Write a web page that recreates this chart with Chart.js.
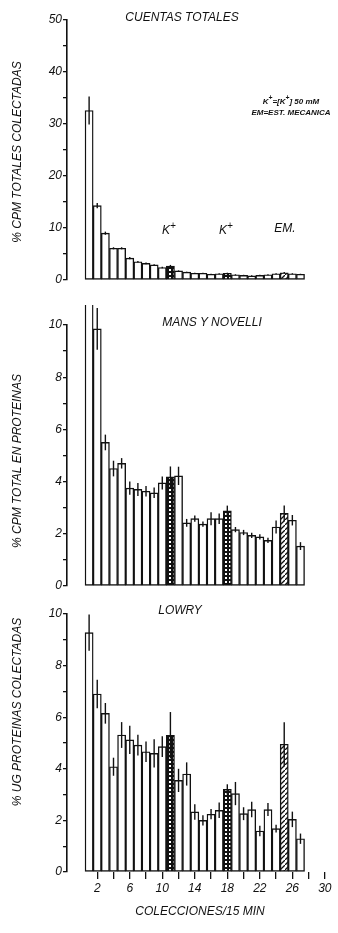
<!DOCTYPE html>
<html lang="es">
<head>
<meta charset="UTF-8">
<title>Colecciones / 15 min</title>
<script src="https://cdn.jsdelivr.net/npm/chart.js"></script>
<style>
  body { margin: 0; background: #fff; }
  #wrap { position: relative; width: 338px; height: 933px; overflow: hidden;
          font-family: "Liberation Sans", sans-serif; font-style: italic; color: #111; }
  canvas { position: absolute; left: 0; }
  .txt { position: absolute; white-space: nowrap; font-size: 12px; transform: translate(-50%, -50%); }
  .small { font-size: 8px; font-weight: bold; }
  .ytitle { position: absolute; white-space: nowrap; font-size: 12px;
            transform: translate(-50%, -50%) rotate(-90deg); }
</style>
</head>
<body>
<div id="wrap">
  <canvas id="cuentasChart" width="338" height="300" style="top:0"></canvas>
  <canvas id="mansChart" width="338" height="300" style="top:300px"></canvas>
  <canvas id="lowryChart" width="338" height="333" style="top:600px"></canvas>

  <div class="txt" style="left:182px; top:17px">CUENTAS TOTALES</div>
  <div class="txt small" style="left:291px; top:100px">K<sup>+</sup>=[K<sup>+</sup>] 50 mM</div>
  <div class="txt small" style="left:291px; top:112px">EM=EST. MECANICA</div>
  <div class="txt" style="left:169px; top:228px">K<sup>+</sup></div>
  <div class="txt" style="left:226px; top:228px">K<sup>+</sup></div>
  <div class="txt" style="left:285px; top:228px">EM.</div>
  <div class="ytitle" style="left:17px; top:152px">% CPM TOTALES COLECTADAS</div>

  <div class="txt" style="left:212px; top:322px">MANS Y NOVELLI</div>
  <div class="ytitle" style="left:17px; top:461px">% CPM TOTAL EN PROTEINAS</div>

  <div class="txt" style="left:180px; top:610px">LOWRY</div>
  <div class="ytitle" style="left:17px; top:712px">% UG PROTEINAS COLECTADAS</div>
</div>

<script>
  // numero de coleccion (cada 15 min)
  const colecciones = [1, 2, 3, 4, 5, 6, 7, 8, 9, 10, 11, 12, 13, 14, 15, 16, 17, 18, 19, 20, 21, 22, 23, 24, 25, 26, 27];
  const pulsosK = [11, 18];
  const pulsosEM = [25];

  // % CPM totales colectadas
  const cuentas = [32.6, 14.3, 9.0, 6.1, 6.1, 4.2, 3.5, 3.2, 2.9, 2.4, 2.7, 1.75, 1.5, 1.3, 1.3, 1.1, 1.2, 1.3, 1.0, 0.9, 0.8, 0.9, 1.0, 1.2, 1.4, 1.2, 1.1];
  const cuentasErr = [2.7, 0.5, 0.3, 0.2, 0.2, 0.2, 0.15, 0.15, 0.15, 0.15, 0.2, 0.1, 0.1, 0.1, 0.1, 0.1, 0.1, 0.1, 0.1, 0.1, 0.1, 0.1, 0.1, 0.1, 0.15, 0.1, 0.1];

  // % CPM total en proteinas (Mans y Novelli)
  const mans = [14.0, 9.85, 5.5, 4.5, 4.7, 3.75, 3.7, 3.63, 3.57, 3.95, 4.18, 4.22, 2.42, 2.58, 2.37, 2.58, 2.58, 2.88, 2.16, 2.05, 1.94, 1.88, 1.75, 2.26, 2.78, 2.52, 1.53];
  const mansErr = [1.0, 0.8, 0.3, 0.3, 0.2, 0.25, 0.25, 0.2, 0.2, 0.25, 0.4, 0.35, 0.15, 0.12, 0.1, 0.25, 0.2, 0.2, 0.1, 0.1, 0.1, 0.1, 0.1, 0.25, 0.3, 0.2, 0.15];

  // % ug proteinas colectadas (Lowry)
  const lowry = [9.28, 6.9, 6.15, 4.08, 5.31, 5.12, 4.92, 4.66, 4.6, 4.86, 5.3, 3.55, 3.8, 2.33, 2.0, 2.24, 2.39, 3.2, 3.04, 2.26, 2.42, 1.59, 2.42, 1.68, 4.95, 2.04, 1.29];
  const lowryErr = [0.7, 0.55, 0.4, 0.35, 0.5, 0.55, 0.4, 0.4, 0.55, 0.4, 0.9, 0.45, 0.45, 0.3, 0.2, 0.2, 0.3, 0.2, 0.45, 0.25, 0.3, 0.2, 0.25, 0.15, 0.85, 0.3, 0.2];

  const marcasX = [2, 4, 6, 8, 10, 12, 14, 16, 18, 20, 22, 24, 26, 28, 30];
  const etiquetasX = [2, 6, 10, 14, 18, 22, 26, 30];

  const negro = '#111';
  const fuente = { family: 'Liberation Sans', style: 'italic', size: 12 };

  // relleno oscuro con huecos blancos (pulsos de K+)
  function patronCruzado() {
    const c = document.createElement('canvas');
    c.width = 4; c.height = 4;
    const g = c.getContext('2d');
    g.fillStyle = negro; g.fillRect(0, 0, 4, 4);
    g.fillStyle = '#fff';
    g.fillRect(1, 1, 2, 2);
    return g.createPattern(c, 'repeat');
  }

  function patronDiagonal() {
    const c = document.createElement('canvas');
    c.width = 5; c.height = 5;
    const g = c.getContext('2d');
    g.fillStyle = '#fff'; g.fillRect(0, 0, 5, 5);
    g.strokeStyle = negro; g.lineWidth = 1.3;
    g.beginPath();
    g.moveTo(-1, 6); g.lineTo(6, -1);
    g.stroke();
    return g.createPattern(c, 'repeat');
  }

  const cruzado = patronCruzado();
  const diagonal = patronDiagonal();
  const rellenos = colecciones.map(c => pulsosK.includes(c) ? cruzado : (pulsosEM.includes(c) ? diagonal : '#fff'));

  // barras de error dibujadas sobre cada barra
  const errorBars = {
    id: 'errorBars',
    afterDatasetsDraw(chart) {
      const ds = chart.data.datasets[0];
      const meta = chart.getDatasetMeta(0);
      const y = chart.scales.y;
      const area = chart.chartArea;
      const extra = ds.extraArriba || 0;
      const ctx = chart.ctx;
      ctx.save();
      ctx.beginPath();
      ctx.rect(area.left, area.top - extra, area.right - area.left, area.bottom - area.top + extra);
      ctx.clip();
      ctx.strokeStyle = negro;
      ctx.lineWidth = 1.4;
      meta.data.forEach((bar, i) => {
        const v = ds.data[i].y;
        const e = ds.errores[i];
        ctx.beginPath();
        ctx.moveTo(bar.x, y.getPixelForValue(v - e));
        ctx.lineTo(bar.x, y.getPixelForValue(v + e));
        ctx.stroke();
      });
      ctx.restore();
    }
  };

  function crearPanel(id, valores, errores, opt) {
    const ctx = document.getElementById(id).getContext('2d');
    return new Chart(ctx, {
      type: 'bar',
      data: {
        datasets: [{
          data: colecciones.map((c, i) => ({ x: c, y: valores[i] })),
          errores: errores,
          extraArriba: opt.extraArriba || 0,
          backgroundColor: rellenos,
          borderColor: negro,
          borderWidth: 1.4,
          borderSkipped: false,
          barPercentage: 1,
          categoryPercentage: 1,
          clip: { left: 0, top: opt.extraArriba || 0, right: 0, bottom: 2 }
        }]
      },
      options: {
        responsive: false,
        animation: false,
        layout: { padding: { left: 0, right: 5, top: opt.top, bottom: opt.bottom } },
        plugins: { legend: { display: false }, tooltip: { enabled: false } },
        scales: {
          x: {
            type: 'linear',
            min: -1.72,
            max: 31,
            offset: false,
            display: opt.ejeX,
            afterFit: s => { s.height = opt.ejeX ? 61 : 0; },
            afterBuildTicks: s => { s.ticks = marcasX.map(v => ({ value: v })); },
            border: { display: false },
            grid: { drawOnChartArea: false, offset: false, tickLength: 7, color: negro, lineWidth: 1.3 },
            ticks: {
              color: negro, padding: 2, autoSkip: false, maxRotation: 0, font: fuente,
              callback: v => etiquetasX.includes(v) ? String(v) : ''
            },
            title: {
              display: true, text: 'COLECCIONES/15 MIN', color: negro, font: fuente,
              padding: { top: 0, bottom: 14 }
            }
          },
          y: {
            min: 0,
            max: opt.max,
            afterFit: s => { s.width = 67; },
            border: { color: negro, width: 1.6 },
            grid: { drawOnChartArea: false, tickLength: 4, color: negro, lineWidth: 1.3 },
            ticks: {
              stepSize: opt.paso, color: negro, padding: 1, font: fuente, autoSkip: false,
              callback: v => v % opt.cadaEtiqueta === 0 ? String(v) : ''
            }
          }
        }
      },
      plugins: [errorBars]
    });
  }

  crearPanel('cuentasChart', cuentas, cuentasErr, { max: 50, paso: 5, cadaEtiqueta: 10, top: 20, bottom: 20, ejeX: false });
  crearPanel('mansChart', mans, mansErr, { max: 10, paso: 1, cadaEtiqueta: 2, top: 25, bottom: 14, ejeX: false, extraArriba: 20 });
  crearPanel('lowryChart', lowry, lowryErr, { max: 10, paso: 1, cadaEtiqueta: 2, top: 14, bottom: 0, ejeX: true });
</script>
</body>
</html>
